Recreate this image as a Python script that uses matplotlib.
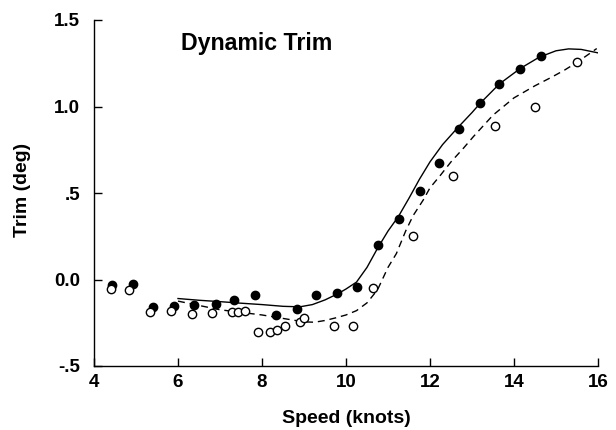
import matplotlib
matplotlib.use("Agg")
import matplotlib.pyplot as plt

plt.rcParams['font.family'] = ['Liberation Sans', 'DejaVu Sans']

# Measured points: filled (solid) series
filled_x = [4.43, 4.92, 5.41, 5.90, 6.39, 6.90, 7.34, 7.84, 8.34, 8.83, 9.29, 9.79,
            10.26, 10.75, 11.26, 11.75, 12.21, 12.68, 13.19, 13.65, 14.15, 14.64]
filled_y = [-0.03, -0.025, -0.16, -0.154, -0.145, -0.14, -0.116, -0.088, -0.208, -0.17,
            -0.092, -0.079, -0.044, 0.197, 0.351, 0.513, 0.672, 0.869, 1.021, 1.131, 1.218, 1.29]

# Measured points: open series
open_x = [4.40, 4.83, 5.33, 5.83, 6.33, 6.81, 7.29, 7.44, 7.60, 7.91, 8.19, 8.36, 8.55,
          8.90, 9.01, 9.71, 10.16, 10.65, 11.60, 12.54, 13.54, 14.51, 15.49]
open_y = [-0.054, -0.058, -0.185, -0.183, -0.198, -0.195, -0.185, -0.185, -0.18, -0.306,
          -0.305, -0.29, -0.268, -0.247, -0.22, -0.27, -0.27, -0.05, 0.249, 0.60, 0.89, 0.996, 1.26]

# Fitted curve (solid)
solid_x = [6.0, 6.5, 7.0, 7.5, 8.0, 8.5, 8.9, 9.2, 9.5, 9.8, 10.0, 10.25, 10.5, 10.75,
           11.0, 11.25, 11.5, 11.75, 12.0, 12.3, 12.65, 13.0, 13.2, 13.65, 14.15, 14.6,
           15.0, 15.3, 15.6, 16.0]
solid_y = [-0.11, -0.12, -0.128, -0.137, -0.145, -0.155, -0.158, -0.145, -0.118, -0.083,
           -0.055, -0.015, 0.07, 0.18, 0.28, 0.365, 0.47, 0.58, 0.68, 0.78, 0.875, 0.965,
           1.02, 1.13, 1.22, 1.285, 1.322, 1.333, 1.33, 1.31]

# Fitted curve (dashed)
dash_x = [6.0, 6.5, 7.0, 7.5, 8.0, 8.5, 9.0, 9.25, 9.5, 9.75, 10.0, 10.25, 10.5, 10.75,
          11.0, 11.2, 11.42, 11.6, 11.84, 12.0, 12.24, 12.5, 12.8, 13.03, 13.5, 14.0,
          14.5, 14.9, 15.2, 15.5, 15.97]
dash_y = [-0.125, -0.15, -0.175, -0.19, -0.205, -0.225, -0.245, -0.247, -0.237, -0.222,
          -0.205, -0.18, -0.135, -0.06, 0.07, 0.15, 0.28, 0.37, 0.46, 0.53, 0.6, 0.68,
          0.76, 0.825, 0.95, 1.05, 1.12, 1.17, 1.21, 1.255, 1.335]

x_ticks = [4, 6, 8, 10, 12, 14, 16]
x_tick_labels = ['4', '6', '8', '10', '12', '14', '16']
y_ticks = [-0.5, 0.0, 0.5, 1.0, 1.5]
y_tick_labels = ['-.5', '0.0', '.5', '1.0', '1.5']

fig = plt.figure(figsize=(6.16, 4.30), dpi=100)
ax = fig.add_axes([94/616, 1-366/430, (598-94)/616, (366-20)/430])

ax.plot(solid_x, solid_y, color='black', lw=1.0, zorder=2)
ax.plot(dash_x, dash_y, color='black', lw=1.0, dashes=(5, 3.5), zorder=2)
ax.plot(filled_x, filled_y, 'o', color='black', ms=6, mec='black', zorder=3, clip_on=False)
ax.plot(open_x, open_y, 'o', mfc='white', mec='black', mew=1.0, ms=6, zorder=4, clip_on=False)

ax.set_xlim(4, 16)
ax.set_ylim(-0.5, 1.5)
ax.set_xticks(x_ticks)
ax.set_xticklabels(x_tick_labels, fontweight='bold', fontsize=13.5)
ax.set_yticks(y_ticks)
ax.set_yticklabels(y_tick_labels, fontweight='bold', fontsize=13.5)
ax.tick_params(direction='in', length=6, width=1)
ax.tick_params(axis='x', pad=6)
ax.tick_params(axis='y', pad=10)
ax.spines['top'].set_visible(False)
ax.spines['right'].set_visible(False)
for s in ('left', 'bottom'):
    ax.spines[s].set_linewidth(1.0)

ax.set_xlabel('Speed (knots)', fontweight='bold', fontsize=14)
ax.xaxis.label.set_va('top')
ax.xaxis.set_label_coords(0.5, -0.128)
ax.set_ylabel('Trim (deg)', fontweight='bold', fontsize=14)
ax.yaxis.label.set_va('center')
ax.yaxis.set_label_coords(-0.141, 0.509)
ax.text(6.07, 1.327, 'Dynamic Trim', fontweight='bold', fontsize=16.7, ha='left', va='baseline')

fig.savefig('out.png', dpi=100)
